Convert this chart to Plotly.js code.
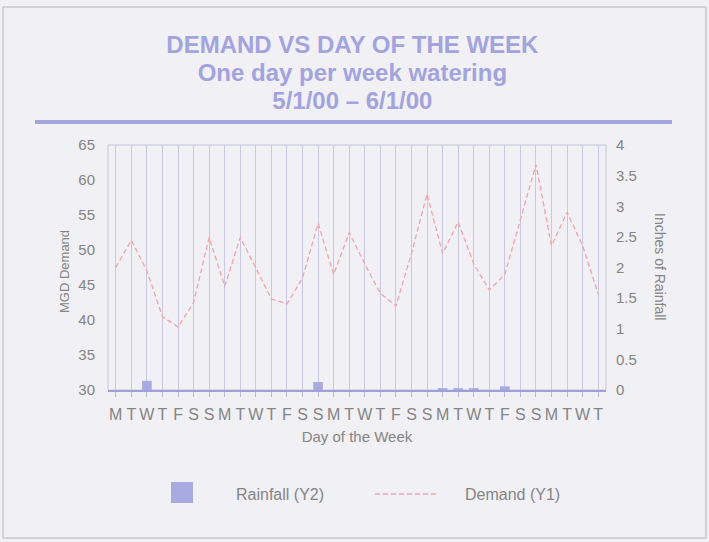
<!DOCTYPE html>
<html><head><meta charset="utf-8">
<script src="https://cdn.plot.ly/plotly-3.0.1.min.js"></script>
<style>html,body{margin:0;padding:0;background:#f1f0f4;} #chart{width:709px;height:542px;}</style>
</head><body><div id="chart"></div>
<script>
// categories: 5/1/00 .. 6/1/00
const dates = ['5/1','5/2','5/3','5/4','5/5','5/6','5/7','5/8','5/9','5/10','5/11','5/12','5/13','5/14','5/15','5/16',
               '5/17','5/18','5/19','5/20','5/21','5/22','5/23','5/24','5/25','5/26','5/27','5/28','5/29','5/30','5/31','6/1'];
const dayLabels = ['M','T','W','T','F','S','S','M','T','W','T','F','S','S','M','T',
                   'W','T','F','S','S','M','T','W','T','F','S','S','M','T','W','T'];
// MGD demand (Y1)
const demand = [47.5,51.4,47.0,40.5,39.0,42.5,51.8,44.8,51.8,47.5,43.0,42.3,46.0,53.8,46.5,52.5,
                48.0,43.8,42.0,49.5,58.0,49.5,54.0,48.0,44.3,46.5,54.5,62.2,50.6,55.4,50.6,43.7];
// inches of rainfall (Y2)
const rainfall = [0,0,0.15,0,0,0,0,0,0,0,0,0,0,0.13,0,0,
                  0,0,0,0,0,0.03,0.03,0.03,0,0.06,0,0,0,0,0,0];
const leftTicks = [30,35,40,45,50,55,60,65];
const rightTicks = [0,0.5,1,1.5,2,2.5,3,3.5,4];
const titleLines = ['DEMAND VS DAY OF THE WEEK', 'One day per week watering', '5/1/00 \u2013 6/1/00'];

const FONT = 'Arial, "Liberation Sans", sans-serif';
const TITLE_C = '#a3a3dd';
const GREY = '#858585';

// pixel helpers for paper coords (plot area x:108..606, y:145..390)
const px = x => (x - 108) / 498;
const py = y => (390 - y) / 245;

const traces = [
  {type:'bar', name:'Rainfall (Y2)', x:dates, y:rainfall, yaxis:'y2',
   marker:{color:'#aaaae2', line:{width:0}}, width:0.62, showlegend:false, hoverinfo:'x+y'},
  {type:'scatter', mode:'lines', name:'Demand (Y1)', x:dates, y:demand, yaxis:'y',
   line:{color:'#f2a4ad', width:1.3, dash:'5px,3px'}, showlegend:false}
];

const layout = {
  width:709, height:542,
  margin:{l:108, r:103, t:145, b:152},
  paper_bgcolor:'#f1f0f4', plot_bgcolor:'#f1f0f4',
  font:{family:FONT, color:GREY},
  title:{text: titleLines.map(s => '<span style="font-size:24px">' + s + '</span>').join('<br>'),
         font:{family:FONT, size:21.5, color:TITLE_C, weight:'bold'},
         x:0.497, xanchor:'center', y:1-53/542, yanchor:'middle', xref:'container', yref:'container'},
  xaxis:{type:'category', tickmode:'array', tickvals:dates, ticktext:dayLabels, tickangle:0,
         showgrid:true, gridcolor:'#c8c8de', gridwidth:1, ticks:'outside', ticklen:5, tickcolor:'#b9b9d3',
         showline:true, linecolor:'#a0a0d6', linewidth:2, zeroline:false, ticklabelstandoff:4,
         tickfont:{family:FONT, size:16, color:GREY},
         title:{text:'Day of the Week', font:{family:FONT, size:15, color:GREY}, standoff:9},
         range:[-0.5,31.5], fixedrange:true},
  yaxis:{range:[30,65], tickmode:'array', tickvals:leftTicks, showgrid:false, zeroline:false,
         ticks:'', showline:false, tickfont:{family:FONT, size:15, color:GREY}, ticklabelstandoff:12, fixedrange:true},
  yaxis2:{range:[0,4], overlaying:'y', side:'right', tickmode:'array', tickvals:rightTicks, showgrid:false,
          zeroline:false, ticks:'', showline:false, tickfont:{family:FONT, size:15, color:GREY}, ticklabelstandoff:9, fixedrange:true},
  bargap:0.4,
  shapes:[
    // outer frame
    {type:'rect', xref:'paper', yref:'paper', x0:px(3), x1:px(706), y0:py(538), y1:py(7),
     line:{color:'#b4b4b8', width:1}, fillcolor:'rgba(0,0,0,0)', layer:'below'},
    // rule under title
    {type:'line', xref:'paper', yref:'paper', x0:px(35), x1:px(672), y0:py(122), y1:py(122),
     line:{color:'#a4a4dc', width:4}},
    // plot frame
    {type:'rect', xref:'paper', yref:'paper', x0:0, x1:1, y0:0, y1:1,
     line:{color:'#c4c4da', width:1}, fillcolor:'rgba(0,0,0,0)', layer:'below'},
    // legend symbols
    {type:'rect', xref:'paper', yref:'paper', x0:px(171), x1:px(193), y0:py(503), y1:py(482),
     line:{width:0}, fillcolor:'#aaaae2'},
    {type:'line', xref:'paper', yref:'paper', x0:px(375), x1:px(436), y0:py(494), y1:py(494),
     line:{color:'#f2a4ad', width:1.3, dash:'5px,3px'}}
  ],
  annotations:[
    {text:'MGD Demand', xref:'paper', yref:'paper', x:px(64), y:py(272), xanchor:'center', yanchor:'middle',
     textangle:-90, showarrow:false, font:{family:FONT, size:13, color:GREY}},
    {text:'Inches of Rainfall', xref:'paper', yref:'paper', x:px(660), y:py(266), xanchor:'center', yanchor:'middle',
     textangle:90, showarrow:false, font:{family:FONT, size:14, color:GREY}},
    {text:'Rainfall (Y2)', xref:'paper', yref:'paper', x:px(234), y:py(494), xanchor:'left', yanchor:'middle',
     showarrow:false, font:{family:FONT, size:16, color:GREY}},
    {text:'Demand (Y1)', xref:'paper', yref:'paper', x:px(463), y:py(494), xanchor:'left', yanchor:'middle',
     showarrow:false, font:{family:FONT, size:16, color:GREY}}
  ]
};

Plotly.newPlot('chart', traces, layout, {displayModeBar:false, staticPlot:true});
</script>
</body></html>
